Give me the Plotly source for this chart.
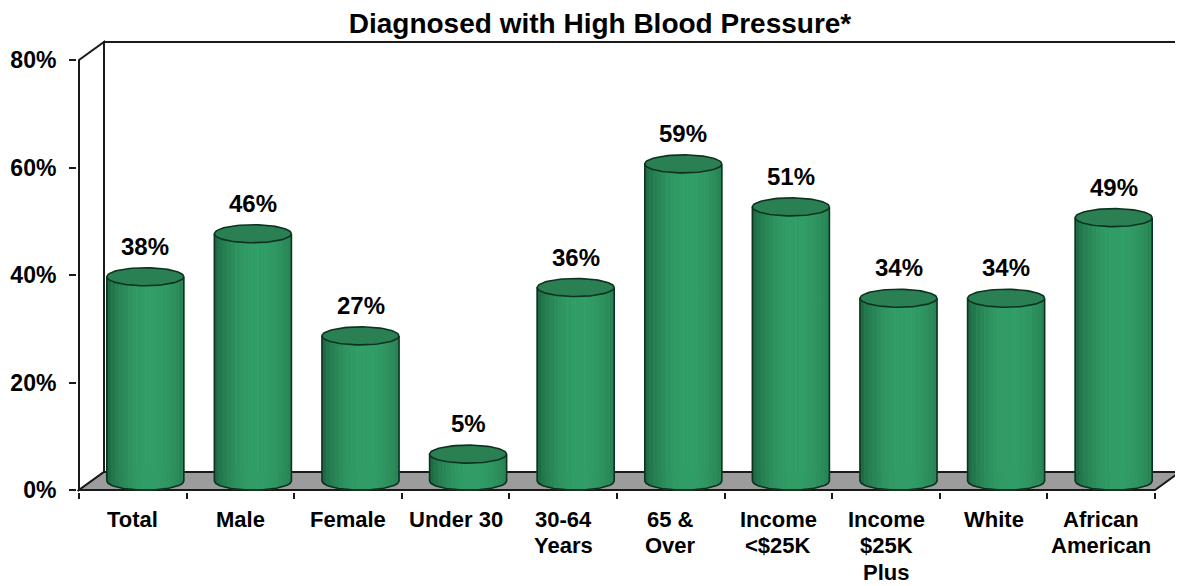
import numpy as np
import plotly.graph_objects as go

# ---------------- data ----------------
categories = ["Total", "Male", "Female", "Under 30", "30-64<br>Years", "65 &amp;<br>Over",
              "Income<br>&lt;$25K", "Income<br>$25K<br>Plus", "White", "African<br>American"]
values = [38, 46, 27, 5, 36, 59, 51, 34, 34, 49]
y_ticks = [0, 20, 40, 60, 80]
title_text = "Diagnosed with High Blood Pressure*"

# ---------------- geometry / style ----------------
PX_CAT = 107.6      # px per category
PX_PCT = 5.375      # px per percent
DX = 25 / PX_CAT    # depth offset of back wall (x, in category units)
DY = 18 / PX_PCT    # depth offset of back wall (y, in percent units)
RX = 38.5 / PX_CAT  # cylinder radius
RY = 9 / PX_PCT     # ellipse half-height
FONT = "Arial, Liberation Sans, sans-serif"
EDGE = "#1a1a1a"
OUT = "#0d3320"

OFF = 8                      # default page body margin of the html
W, H = 1183 - OFF, 586 - OFF
# plot area in screen pixels: x 77..1182, y 40..492 (front axis: x=79, 0% at y=490)
ML, MR = 77 - OFF, 1
MT, MB = 40 - OFF, H - (492 - OFF)
x_lo = -0.5 - 2 / PX_CAT
x_hi = -0.5 + (1182 - 79) / PX_CAT
y_lo = -2 / PX_PCT
y_hi = (490 - 40) / PX_PCT

n = len(values)
fig = go.Figure()

# ---------- cylinder bodies (vertical strips for shading) ----------
K = 18
edges = np.linspace(-1, 1, K + 1)
dark = np.array([24, 92, 58])
light = np.array([50, 158, 103])


def shade(t):
    s = max(0.0, 1 - ((t - 0.15) / 1.2) ** 2) ** 0.8
    c = dark + (light - dark) * s
    return "rgb(%d,%d,%d)" % tuple(c.astype(int))


for k in range(K):
    t0, t1 = edges[k], edges[k + 1]
    xs, ys = [], []
    for i, v in enumerate(values):
        cx = i + DX / 2
        cy0 = DY / 2
        cy1 = v + DY / 2
        tt = np.linspace(t0, t1, 6)
        bx = cx + tt * RX
        by = cy0 - RY * np.sqrt(np.clip(1 - tt ** 2, 0, 1))
        ty = cy1 - RY * np.sqrt(np.clip(1 - tt[::-1] ** 2, 0, 1))
        xs += list(bx) + list(bx[::-1]) + [bx[0], None]
        ys += list(by) + list(ty) + [by[0], None]
    col = shade((t0 + t1) / 2)
    fig.add_trace(go.Scatter(x=xs, y=ys, mode="lines", fill="toself", fillcolor=col,
                             line=dict(color=col, width=0.8), hoverinfo="skip",
                             showlegend=False))

# outlines of bodies
ox, oy = [], []
for i, v in enumerate(values):
    cx = i + DX / 2
    cy0 = DY / 2
    cy1 = v + DY / 2
    tt = np.linspace(-1, 1, 60)
    ox += [cx - RX] + list(cx + tt * RX) + [cx + RX, None]
    oy += [cy1] + list(cy0 - RY * np.sqrt(1 - tt ** 2)) + [cy1, None]
fig.add_trace(go.Scatter(x=ox, y=oy, mode="lines", line=dict(color=OUT, width=1.6),
                         hoverinfo="skip", showlegend=False))

# top caps
cx_, cy_ = [], []
th = np.linspace(0, 2 * np.pi, 80)
for i, v in enumerate(values):
    cx = i + DX / 2
    cy1 = v + DY / 2
    cx_ += list(cx + RX * np.cos(th)) + [None]
    cy_ += list(cy1 + RY * np.sin(th)) + [None]
fig.add_trace(go.Scatter(x=cx_, y=cy_, mode="lines", fill="toself", fillcolor="#2a8053",
                         line=dict(color=OUT, width=1.6), hoverinfo="skip", showlegend=False))

# value labels
for i, v in enumerate(values):
    fig.add_annotation(x=i + DX / 2, y=v + DY / 2 + RY, xref="x", yref="y",
                       text="<b>%d%%</b>" % v, showarrow=False, yanchor="bottom",
                       yshift=6, font=dict(family=FONT, size=24, color="black"))

# category labels (one annotation per text line, tight line spacing)
for i, cat in enumerate(categories):
    for j, line in enumerate(cat.split("<br>")):
        fig.add_annotation(x=i, y=0, xref="x", yref="y", text="<b>%s</b>" % line,
                           showarrow=False, yanchor="middle", xanchor="center",
                           yshift=-(29 + 26.5 * j),
                           font=dict(family=FONT, size=22, color="black"))

# ---------- walls and floor ----------
shapes = []
shapes.append(dict(type="rect", xref="x", yref="y", x0=-0.5 + DX, y0=DY, x1=9.5 + DX, y1=80 + DY,
                   fillcolor="white", line=dict(color=EDGE, width=2), layer="below"))
shapes.append(dict(type="path", xref="x", yref="y",
                   path=f"M {-0.5},{0} L {-0.5},{80} L {-0.5 + DX},{80 + DY} L {-0.5 + DX},{DY} Z",
                   fillcolor="white", line=dict(color=EDGE, width=2), layer="below"))
shapes.append(dict(type="path", xref="x", yref="y",
                   path=f"M {-0.5},{0} L {9.5},{0} L {9.5 + DX},{DY} L {-0.5 + DX},{DY} Z",
                   fillcolor="#9c9c9c", line=dict(color=EDGE, width=2), layer="below"))

fig.update_layout(
    width=W, height=H,
    margin=dict(l=ML, r=MR, t=MT, b=MB, autoexpand=False),
    paper_bgcolor="white", plot_bgcolor="white",
    shapes=shapes,
    title=dict(text="<b>%s</b>" % title_text, x=(600 - OFF) / W, xanchor="center",
               y=1 - (23 - OFF) / H, yanchor="middle", yref="container", automargin=False,
               font=dict(family=FONT, size=28, color="black")),
    xaxis=dict(range=[x_lo, x_hi], showgrid=False, zeroline=False, showline=False,
               automargin=False,
               tickmode="array", tickvals=[i - 0.5 for i in range(n + 1)],
               ticktext=[""] * (n + 1), ticks="outside", ticklen=6, tickwidth=1.5,
               tickcolor=EDGE),
    yaxis=dict(range=[y_lo, y_hi], showgrid=False, zeroline=False, showline=False,
               automargin=False,
               tickmode="array", tickvals=y_ticks, ticktext=["%d%%" % t for t in y_ticks],
               ticks="outside", ticklen=7, tickwidth=1.5, tickcolor=EDGE,
               ticklabelstandoff=8,
               tickfont=dict(family=FONT, size=23, color="black", weight="bold")),
)

fig.write_html("out.html")
